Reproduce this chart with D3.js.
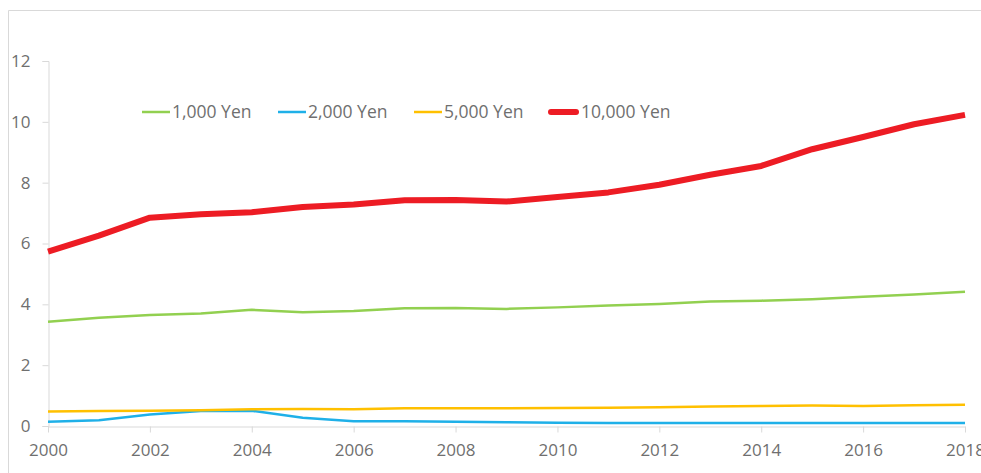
<!DOCTYPE html>
<html>
<head>
<meta charset="utf-8">
<script src="https://cdn.jsdelivr.net/npm/d3@7"></script>
<style>
  html, body { margin: 0; padding: 0; background: #fff; }
  svg { display: block; }
  text { font-family: "Open Sans", sans-serif; fill: #6f6f6f; }
</style>
</head>
<body>
<svg id="chart" width="981" height="473"></svg>
<script>
const years = [2000,2001,2002,2003,2004,2005,2006,2007,2008,2009,2010,2011,2012,2013,2014,2015,2016,2017,2018];
const yen1000  = [3.43,3.56,3.65,3.70,3.82,3.74,3.78,3.87,3.88,3.85,3.90,3.96,4.01,4.09,4.12,4.17,4.25,4.32,4.41];
const yen2000  = [0.14,0.19,0.38,0.49,0.50,0.27,0.16,0.16,0.14,0.12,0.11,0.10,0.10,0.10,0.10,0.10,0.10,0.10,0.10];
const yen5000  = [0.48,0.49,0.50,0.52,0.55,0.56,0.55,0.58,0.58,0.58,0.59,0.60,0.62,0.64,0.66,0.67,0.66,0.68,0.70];
const yen10000 = [5.73,6.26,6.85,6.96,7.03,7.20,7.28,7.42,7.43,7.38,7.53,7.68,7.93,8.26,8.55,9.10,9.50,9.92,10.23];
const seriesNames = ["1,000 Yen","2,000 Yen","5,000 Yen","10,000 Yen"];
const seriesColors = ["#92D050","#1FB0E8","#FFC000","#ED1C24"];
const seriesWidths = [2.5,2.5,2.5,6];
const yTicks = [0,2,4,6,8,10,12];
const xTicks = [2000,2002,2004,2006,2008,2010,2012,2014,2016,2018];

const seriesValues = [yen1000, yen2000, yen5000, yen10000];
const svg = d3.select("#chart");

// outer frame (top and left)
svg.append("line").attr("x1",8.5).attr("x2",981).attr("y1",10.5).attr("y2",10.5).attr("stroke","#d9d9d9");
svg.append("line").attr("x1",8.5).attr("x2",8.5).attr("y1",10.5).attr("y2",473).attr("stroke","#d9d9d9");

const x = d3.scaleLinear().domain([2000,2018]).range([48,965]);
const y = d3.scaleLinear().domain([0,12]).range([426,61]);

// Y axis
const yAxis = svg.append("g").attr("transform","translate(48.5,0)")
  .call(d3.axisLeft(y).tickValues(yTicks).tickSize(6).tickPadding(12).tickFormat(d3.format("d")));
yAxis.select(".domain").attr("stroke","#d9d9d9");
yAxis.selectAll(".tick line").attr("stroke","#d9d9d9");
yAxis.selectAll(".tick text").style("font-size","17px").attr("fill","#6f6f6f").style("font-family","Open Sans, sans-serif");

// X axis
const xAxis = svg.append("g").attr("transform","translate(0,426.5)")
  .call(d3.axisBottom(x).tickValues(xTicks).tickSize(6).tickSizeOuter(0).tickPadding(11).tickFormat(d3.format("d")));
xAxis.select(".domain").attr("stroke","#d9d9d9");
xAxis.selectAll(".tick line").attr("stroke","#d9d9d9");
xAxis.selectAll(".tick text").style("font-size","17px").attr("fill","#6f6f6f").style("font-family","Open Sans, sans-serif");

// Lines
const line = d3.line().x((d,i)=>x(years[i])).y(d=>y(d));
seriesValues.forEach((vals,k)=>{
  svg.append("path").datum(vals)
    .attr("fill","none")
    .attr("stroke",seriesColors[k])
    .attr("stroke-width",seriesWidths[k])
    .attr("stroke-linejoin","round")
    .attr("d",line);
});

// Legend
const legendX = [142,278,414,551];
const legend = svg.append("g");
seriesNames.forEach((name,k)=>{
  const g = legend.append("g").attr("transform",`translate(${legendX[k]},112)`);
  g.append("line").attr("x1",0).attr("x2",k===3 ? 25 : 28).attr("y1",0).attr("y2",0)
    .attr("stroke",seriesColors[k]).attr("stroke-width",seriesWidths[k])
    .attr("stroke-linecap", k===3 ? "round" : "butt");
  g.append("text").attr("x",30).attr("y",0).attr("dy","0.35em")
    .style("font-size","17.5px").text(name);
});
</script>
</body>
</html>
